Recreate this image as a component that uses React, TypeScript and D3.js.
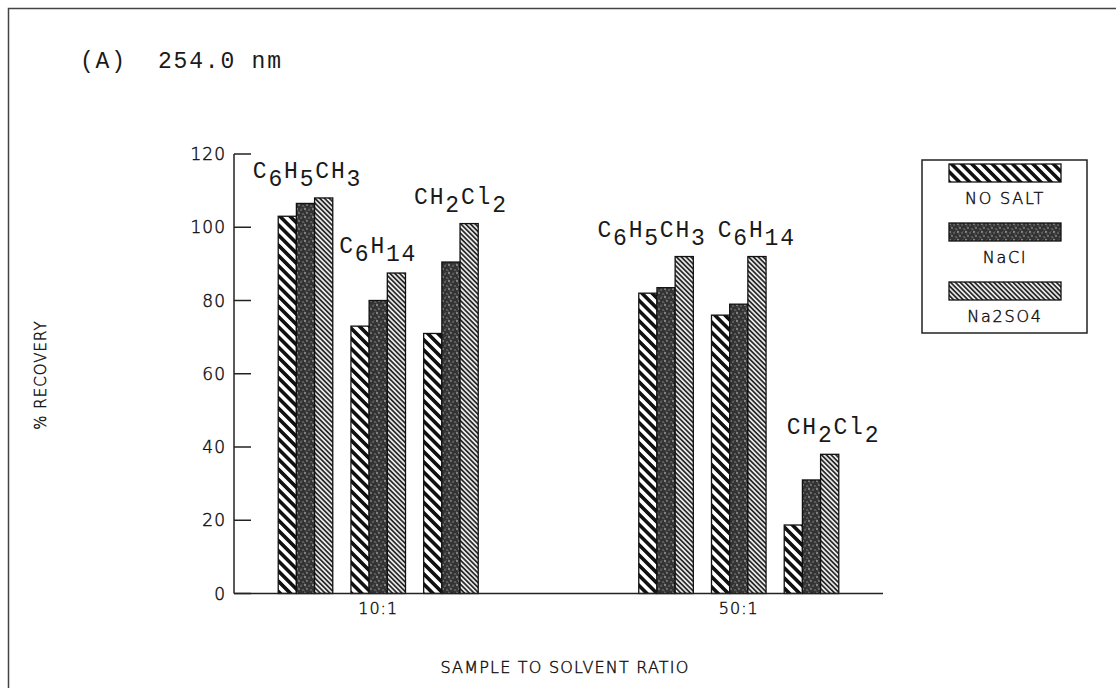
import * as d3 from 'd3'

const groups = ['10:1', '50:1']
const compounds = ['C6H5CH3', 'C6H14', 'CH2Cl2']
const seriesNames = ['NO SALT', 'NaCl', 'Na2SO4']

// values per group, in compound order (10:1 first, then 50:1)
const noSalt = [103, 73, 71, 82, 76, 18.7]
const naCl = [106.5, 80, 90.5, 83.5, 79, 31]
const na2so4 = [108, 87.5, 101, 92, 92, 38]

const yTicks = [0, 20, 40, 60, 80, 100, 120]

// small sideways nudges of the formula labels, as in the original plot
const labelDx = [2, 0, 10, -14, 18, 22]

const W = 1116
const H = 688
const left = 234
const right = 883
const bottom = 593.5
const top = 154

const patternIds = ['pNoSalt', 'pNaCl', 'pNa2SO4']
const mono = '"Liberation Mono", "Courier New", monospace'
const sans = '"DejaVu Sans", "Liberation Sans", sans-serif'

// thin plotter-like lettering
const plotText = { fontFamily: sans, fontWeight: 200, fill: '#111', stroke: '#111', strokeWidth: 0.45 }

const Formula = ({ text, x, y }: { text: string; x: number; y: number }) => {
  const parts = text.match(/\d+|\D+/g) || []
  let sub = false
  return (
    <text x={x} y={y} textAnchor="middle" fontFamily={mono} fontSize={23} letterSpacing={1.8} fill="#1a1a1a">
      {parts.map((p, i) => {
        const isDigit = /\d/.test(p)
        const dy = isDigit && !sub ? 8 : !isDigit && sub ? -8 : 0
        sub = isDigit
        return (
          <tspan key={i} dy={dy}>
            {p}
          </tspan>
        )
      })}
    </text>
  )
}

const App = () => {
  const y = d3.scaleLinear().domain([0, 120]).range([bottom, top])
  const xGroup = d3.scalePoint<string>().domain(groups).range([left, right]).padding(0.4)
  const clusterWidth = 200
  const xComp = d3.scaleBand<string>().domain(compounds).range([-clusterWidth / 2, clusterWidth / 2]).paddingInner(0.25).paddingOuter(0)
  const xSeries = d3.scaleBand<string>().domain(seriesNames).range([0, xComp.bandwidth()])
  const values = [noSalt, naCl, na2so4]

  const speckles: [number, number, number][] = [
    [1, 1, 1.1], [5, 2, 0.8], [3, 5, 0.9], [7, 6, 0.8], [0, 7, 0.6], [6, 0, 0.5], [2, 3, 0.5],
  ]

  return (
    <svg width={W} height={H} style={{ position: 'absolute', left: 0, top: 0, background: '#fff' }}>
      <defs>
        <pattern id="pNoSalt" patternUnits="userSpaceOnUse" width={7.2} height={7.2} patternTransform="rotate(-45)">
          <rect width={7.2} height={7.2} fill="#fff" />
          <rect width={3.6} height={7.2} fill="#111" />
        </pattern>
        <pattern id="pNaCl" patternUnits="userSpaceOnUse" width={8} height={8}>
          <rect width={8} height={8} fill="#333" />
          {speckles.map(([sx, sy, r], i) => (
            <circle key={i} cx={sx} cy={sy} r={r} fill="#8a8a8a" />
          ))}
        </pattern>
        <pattern id="pNa2SO4" patternUnits="userSpaceOnUse" width={3.4} height={3.4} patternTransform="rotate(-45)">
          <rect width={3.4} height={3.4} fill="#e8e8e8" />
          <rect width={1.7} height={3.4} fill="#2a2a2a" />
        </pattern>
      </defs>

      <rect x={8.5} y={8.5} width={1200} height={800} fill="none" stroke="#444" strokeWidth={1.5} />

      <text x={80} y={68} fontFamily={mono} fontSize={23} letterSpacing={1.8} fill="#1a1a1a" xmlSpace="preserve">
        (A)  254.0 nm
      </text>

      {/* bars */}
      {groups.map((g, gi) =>
        compounds.map((c, ci) => {
          const idx = gi * 3 + ci
          const cx = (xGroup(g) || 0) + (xComp(c) || 0)
          return (
            <g key={`${g}-${c}`}>
              {seriesNames.map((s, si) => {
                const v = values[si][idx]
                return (
                  <rect
                    key={s}
                    x={cx + (xSeries(s) || 0)}
                    y={y(v)}
                    width={xSeries.bandwidth()}
                    height={bottom - y(v)}
                    fill={`url(#${patternIds[si]})`}
                    stroke="#111"
                    strokeWidth={1.3}
                  />
                )
              })}
            </g>
          )
        })
      )}

      {/* formula labels */}
      {groups.map((g, gi) =>
        compounds.map((c, ci) => {
          const idx = gi * 3 + ci
          const cx = (xGroup(g) || 0) + (xComp(c) || 0) + xComp.bandwidth() / 2
          const maxV = Math.max(noSalt[idx], naCl[idx], na2so4[idx])
          return <Formula key={`l-${g}-${c}`} text={c} x={cx + labelDx[idx]} y={y(maxV) - 20} />
        })
      )}

      {/* axes */}
      <line x1={left} x2={left} y1={bottom} y2={top} stroke="#222" strokeWidth={1.5} />
      <line x1={left} x2={right} y1={bottom} y2={bottom} stroke="#222" strokeWidth={1.5} />
      {yTicks.map(t => (
        <g key={t}>
          <line x1={left} x2={left + 17} y1={y(t)} y2={y(t)} stroke="#222" strokeWidth={1.5} />
          <text x={left - 8} y={y(t)} dy="0.36em" textAnchor="end" fontSize={17} letterSpacing={1} {...plotText}>
            {t}
          </text>
        </g>
      ))}
      {groups.map(g => (
        <text key={g} x={xGroup(g) || 0} y={614} textAnchor="middle" fontSize={16} letterSpacing={1} {...plotText}>
          {g}
        </text>
      ))}
      <text x={565} y={673} textAnchor="middle" fontSize={16} letterSpacing={1.2} {...plotText}>
        SAMPLE TO SOLVENT RATIO
      </text>
      <text transform="translate(46,375) rotate(-90)" textAnchor="middle" fontSize={15} letterSpacing={1} {...plotText}>
        % RECOVERY
      </text>

      {/* legend */}
      <rect x={922} y={160} width={165} height={173} fill="#fff" stroke="#222" strokeWidth={1.5} />
      {seriesNames.map((s, si) => (
        <g key={s} transform={`translate(949,${164 + si * 59})`}>
          <rect width={112} height={18} fill={`url(#${patternIds[si]})`} stroke="#111" strokeWidth={1.3} />
          <text x={56} y={40} textAnchor="middle" fontSize={16} letterSpacing={1.8} {...plotText}>
            {s}
          </text>
        </g>
      ))}
    </svg>
  )
}

export default App
